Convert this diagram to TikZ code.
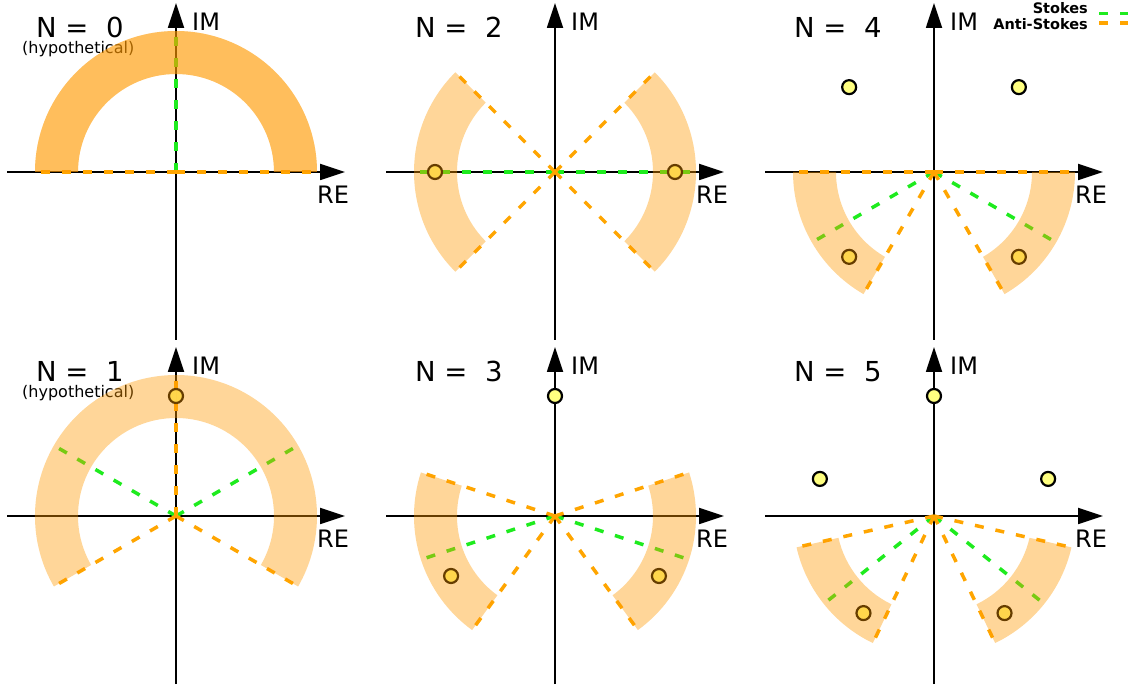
\documentclass[tikz,border=0pt]{standalone}
\usepackage{fontspec}
\setmainfont{DejaVu Sans}
\usetikzlibrary{arrows.meta}
\definecolor{wedge}{RGB}{255,153,0}
\definecolor{stokescol}{RGB}{30,235,30}
\definecolor{astokescol}{RGB}{255,165,0}
\definecolor{dotcol}{RGB}{255,255,128}
\tikzset{
 axis/.style={line width=1.8pt, -{Triangle[length=25pt,width=16pt]}},
 sline/.style={stokescol, line width=3.5pt, dash pattern=on 9pt off 12pt},
 aline/.style={astokescol, line width=3.5pt, dash pattern=on 9pt off 12pt},
 wedgefill/.style={fill=wedge, fill opacity=0.4},
 root/.style={circle, draw=black, line width=2.2pt, fill=dotcol, minimum size=14pt, inner sep=0pt},
 ntext/.style={anchor=base west, font=\fontsize{27.5}{30}\selectfont, inner sep=0pt},
 axlabel/.style={anchor=base west, font=\fontsize{24}{26}\selectfont, inner sep=0pt},
 hypo/.style={anchor=base west, font=\fontsize{16}{18}\selectfont, inner sep=0pt},
 legend/.style={anchor=base east, font=\fontsize{14.5}{16}\selectfont\bfseries, inner sep=0pt},
}
\newcommand\wedgeat[2]{\fill[wedgefill] (#1:98) arc[start angle=#1, end angle=#2, radius=98] -- (#2:141) arc[start angle=#2, end angle=#1, radius=141] -- cycle;}
\newcommand\axesat[1]{%
 \coordinate (#1xl) at (-169,0); \coordinate (#1xr) at (169,0);
 \coordinate (#1yb) at (0,-168); \coordinate (#1yt) at (0,169);
 \draw[axis] (#1xl) -- (#1xr);
 \draw[axis] (#1yb) -- (#1yt);}
\newcommand\labelsat[1]{%
 \node[axlabel] (#1im) at (16,141) {IM};
 \node[axlabel] (#1re) at (141,-32) {RE};}
\begin{document}
\begin{tikzpicture}[x=1pt,y=1pt]
\useasboundingbox (0,0) rectangle (1128,686);

% ---------- N = 0 ----------
\begin{scope}[shift={(176,514)}]
 \coordinate (o0) at (0,0);
 \node[ntext] (n0) at (-140,134) {N = \ 0};
 \node[hypo] (h0) at (-154,118) {(hypothetical)};
 \axesat{p0}
 \draw[sline] (o0) -- (90:138);
 \draw[aline] (o0) -- (0:138);
 \draw[aline] (o0) -- (180:138);
 \wedgeat{0}{180}
 \wedgeat{0}{180}
 \labelsat{p0}
\end{scope}

% ---------- N = 2 ----------
\begin{scope}[shift={(555,514)}]
 \coordinate (o2) at (0,0);
 \node[ntext] (n2) at (-140,134) {N = \ 2};
 \axesat{p2}
 \draw[sline] (o2) -- (0:137);
 \draw[sline] (o2) -- (180:137);
 \foreach \a in {45,135,225,315} \draw[aline] (o2) -- (\a:137);
 \node[root] (r2a) at (0:120) {};
 \node[root] (r2b) at (180:120) {};
 \wedgeat{-45}{45}
 \wedgeat{135}{225}
 \labelsat{p2}
\end{scope}

% ---------- N = 4 ----------
\begin{scope}[shift={(934,514)}]
 \coordinate (o4) at (0,0);
 \node[ntext] (n4) at (-140,134) {N = \ 4};
 \axesat{p4}
 \draw[sline] (o4) -- (330:137);
 \draw[sline] (o4) -- (210:137);
 \foreach \a in {0,180,240,300} \draw[aline] (o4) -- (\a:137);
 \node[root] (r4a) at (45:120) {};
 \node[root] (r4b) at (135:120) {};
 \node[root] (r4c) at (225:120) {};
 \node[root] (r4d) at (315:120) {};
 \wedgeat{300}{360}
 \wedgeat{180}{240}
 \labelsat{p4}
\end{scope}

% ---------- N = 1 ----------
\begin{scope}[shift={(176,170)}]
 \coordinate (o1) at (0,0);
 \node[ntext] (n1) at (-140,134) {N = \ 1};
 \node[hypo] (h1) at (-154,118) {(hypothetical)};
 \axesat{p1}
 \draw[sline] (o1) -- (30:137);
 \draw[sline] (o1) -- (150:137);
 \foreach \a in {90,210,330} \draw[aline] (o1) -- (\a:137);
 \node[root] (r1a) at (90:120) {};
 \wedgeat{-30}{90}
 \wedgeat{90}{210}
 \labelsat{p1}
\end{scope}

% ---------- N = 3 ----------
\begin{scope}[shift={(555,170)}]
 \coordinate (o3) at (0,0);
 \node[ntext] (n3) at (-140,134) {N = \ 3};
 \axesat{p3}
 \draw[sline] (o3) -- (-18:137);
 \draw[sline] (o3) -- (198:137);
 \foreach \a in {18,-54,162,234} \draw[aline] (o3) -- (\a:137);
 \node[root] (r3a) at (90:120) {};
 \node[root] (r3b) at (210:120) {};
 \node[root] (r3c) at (330:120) {};
 \wedgeat{-54}{18}
 \wedgeat{162}{234}
 \labelsat{p3}
\end{scope}

% ---------- N = 5 ----------
\begin{scope}[shift={(934,170)}]
 \coordinate (o5) at (0,0);
 \node[ntext] (n5) at (-140,134) {N = \ 5};
 \axesat{p5}
 \draw[sline] (o5) -- (-38.57:137);
 \draw[sline] (o5) -- (218.57:137);
 \foreach \a in {-12.86,-64.29,192.86,244.29} \draw[aline] (o5) -- (\a:137);
 \node[root] (r5a) at (18:120) {};
 \node[root] (r5b) at (90:120) {};
 \node[root] (r5c) at (162:120) {};
 \node[root] (r5d) at (234:120) {};
 \node[root] (r5e) at (306:120) {};
 \wedgeat{-64.29}{-12.86}
 \wedgeat{192.86}{244.29}
 \labelsat{p5}
\end{scope}

% ---------- legend ----------
\node[legend] (ls) at (1088,672.7) {Stokes};
\node[legend] (la) at (1088,656) {Anti-Stokes};
\coordinate (lsa) at (1099,672.5); \coordinate (lsb) at (1135,672.5);
\coordinate (laa) at (1099,663); \coordinate (lab) at (1135,663);
\draw[sline] (lsa) -- (lsb);
\draw[aline] (laa) -- (lab);
\end{tikzpicture}
\end{document}
